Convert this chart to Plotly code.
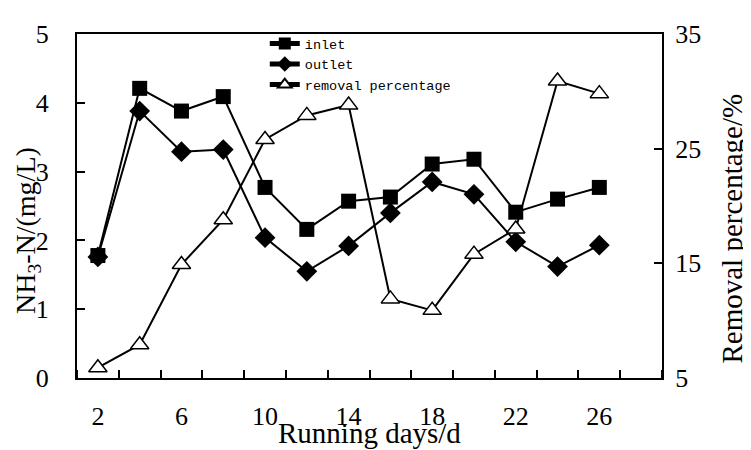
import plotly.graph_objects as go

days = [2, 4, 6, 8, 10, 12, 14, 16, 18, 20, 22, 24, 26]
inlet = [1.78, 4.21, 3.88, 4.09, 2.77, 2.16, 2.57, 2.63, 3.11, 3.18, 2.41, 2.60, 2.77]
outlet = [1.76, 3.88, 3.29, 3.32, 2.04, 1.55, 1.92, 2.40, 2.85, 2.67, 1.98, 1.62, 1.93]
removal = [5.9, 7.9, 14.9, 18.8, 25.8, 27.9, 28.8, 11.9, 10.9, 15.8, 18.0, 30.9, 29.8]

x_ticks = [2, 6, 10, 14, 18, 22, 26]
left_ticks = [0, 1, 2, 3, 4, 5]
right_ticks = [5, 15, 25, 35]

serif = "Liberation Serif"
mono = "'Liberation Mono', 'Courier New', monospace"

fig = go.Figure()
fig.add_trace(go.Scatter(
    x=days, y=inlet, name="inlet", mode="lines+markers",
    line=dict(color="black", width=2),
    marker=dict(symbol="square", size=15, color="black"),
))
fig.add_trace(go.Scatter(
    x=days, y=outlet, name="outlet", mode="lines+markers",
    line=dict(color="black", width=2),
    marker=dict(symbol="diamond", size=16, color="black"),
))
fig.add_trace(go.Scatter(
    x=days, y=removal, name="removal percentage", mode="lines+markers",
    yaxis="y2",
    line=dict(color="black", width=2),
    marker=dict(symbol="triangle-up", size=16, color="white",
                line=dict(color="black", width=1.5)),
))

# page body adds an 8px offset, so margins are shifted to compensate
fig.update_layout(
    width=751, height=450,
    margin=dict(l=69, r=97, t=16, b=80),
    paper_bgcolor="white", plot_bgcolor="white",
    font=dict(family=serif, size=26, color="black"),
    showlegend=True,
    legend=dict(
        x=0.321, y=1.017, xanchor="left", yanchor="top",
        bgcolor="rgba(0,0,0,0)",
        font=dict(family=mono, size=13.5, color="black"),
        tracegroupgap=0, itemsizing="constant",
    ),
    xaxis=dict(
        range=[1, 29], tickvals=x_ticks, ticktext=[str(v) for v in x_ticks],
        ticks="", showgrid=False, zeroline=False,
        showline=True, linecolor="black", linewidth=2, mirror=True,
        ticklabelstandoff=14,
        minor=dict(tick0=1, dtick=2, ticks="inside", ticklen=8,
                   tickcolor="black", tickwidth=2, showgrid=False),
    ),
    yaxis=dict(
        range=[0, 5], tickvals=left_ticks, ticks="inside", ticklen=8,
        tickwidth=2, tickcolor="black", showgrid=False, zeroline=False,
        showline=True, linecolor="black", linewidth=2,
        ticklabelstandoff=21,
    ),
    yaxis2=dict(
        range=[5, 35], tickvals=right_ticks, overlaying="y", side="right",
        ticks="inside", ticklen=8, tickwidth=2, tickcolor="black",
        showgrid=False, zeroline=False,
        showline=True, linecolor="black", linewidth=2,
        ticklabelstandoff=6,
    ),
    annotations=[
        dict(text="Running days/d", x=0.5, y=-0.16, xref="paper", yref="paper",
             xanchor="center", yanchor="middle", showarrow=False,
             font=dict(family=serif, size=29)),
        dict(text="NH<sub>3</sub>-N/(mg/L)", x=-0.0855, y=0.43, xref="paper", yref="paper",
             xanchor="center", yanchor="middle", showarrow=False, textangle=-90,
             font=dict(family=serif, size=28)),
        dict(text="Removal percentage/%", x=1.12, y=0.435, xref="paper", yref="paper",
             xanchor="center", yanchor="middle", showarrow=False, textangle=-90,
             font=dict(family=serif, size=29)),
    ],
)

fig.write_html("out.html")
